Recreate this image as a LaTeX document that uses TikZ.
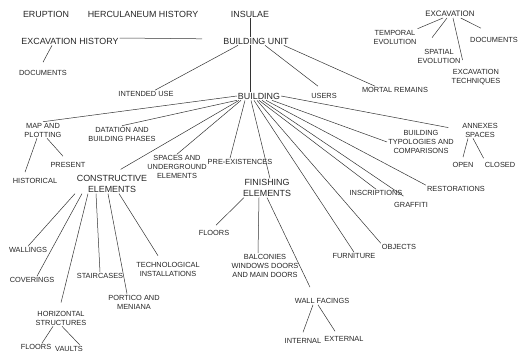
\documentclass[tikz,border=0pt]{standalone}
\usepackage{fontspec}
\setmainfont{Liberation Sans}
\tikzset{
  big/.style={font=\fontsize{8.9}{10.5}\selectfont, align=center, inner sep=1pt, text=black!85},
  small/.style={font=\fontsize{7.4}{9}\selectfont, align=center, inner sep=1pt, text=black!85},
  link/.style={draw=black!80, line width=0.5pt},
}
\begin{document}
\begin{tikzpicture}[x=1pt, y=-1pt]
  \useasboundingbox (0,0) rectangle (519,360);
  \path
    (46,14) node[big] (erup) {ERUPTION}
    (143,14) node[big] (herc) {HERCULANEUM HISTORY}
    (250,14) node[big] (ins) {INSULAE}
    (450,14) node[big, font=\fontsize{7.9}{9.5}\selectfont] (exc) {EXCAVATION}
    (70,41) node[big] (exch) {EXCAVATION HISTORY}
    (256,41) node[big] (bu) {BUILDING UNIT}
    (43,73) node[small] (doc) {DOCUMENTS}
    (395,37) node[small] (temp) {TEMPORAL\\EVOLUTION}
    (439,56) node[small] (spat) {SPATIAL\\EVOLUTION}
    (494,40) node[small] (edoc) {DOCUMENTS}
    (476,77) node[small] (etec) {EXCAVATION\\TECHNIQUES}
    (146,94) node[small] (use) {INTENDED USE}
    (259,96) node[big] (bld) {BUILDING}
    (324,96) node[small] (usr) {USERS}
    (395,90) node[small] (mort) {MORTAL REMAINS}
    (43,130) node[small] (map) {MAP AND\\PLOTTING}
    (68,165) node[small] (pres) {PRESENT}
    (35,181) node[small] (hist) {HISTORICAL}
    (122,134) node[small] (dat) {DATATION AND\\BUILDING PHASES}
    (112,184) node[big] (cons) {CONSTRUCTIVE\\ELEMENTS}
    (177,167) node[small] (spa) {SPACES AND\\UNDERGROUND\\ELEMENTS}
    (240,162) node[small] (pre) {PRE-EXISTENCES}
    (267,188) node[big] (fin) {FINISHING\\ELEMENTS}
    (421,142) node[small] (typo) {BUILDING\\TYPOLOGIES AND\\COMPARISONS}
    (480,130) node[small] (ann) {ANNEXES\\SPACES}
    (463,165) node[small] (open) {OPEN}
    (500,165) node[small] (clos) {CLOSED}
    (456,189) node[small] (rest) {RESTORATIONS}
    (376,193) node[small] (insc) {INSCRIPTIONS}
    (411,205) node[small] (graf) {GRAFFITI}
    (354,256) node[small] (furn) {FURNITURE}
    (399,247) node[small] (obj) {OBJECTS}
    (214,233) node[small] (ffl) {FLOORS}
    (265,266) node[small] (balc) {BALCONIES\\WINDOWS DOORS\\AND MAIN DOORS}
    (322,301) node[small] (wf) {WALL FACINGS}
    (303,341) node[small] (int) {INTERNAL}
    (344,339) node[small] (ext) {EXTERNAL}
    (28,250) node[small] (wall) {WALLINGS}
    (32,280) node[small] (cov) {COVERINGS}
    (61,318) node[small] (hor) {HORIZONTAL\\STRUCTURES}
    (100,276) node[small] (stair) {STAIRCASES}
    (134,302) node[small] (port) {PORTICO AND\\MENIANA}
    (168,269) node[small] (tec) {TECHNOLOGICAL\\INSTALLATIONS}
    (36,347) node[small] (hfl) {FLOORS}
    (69,349) node[small] (vau) {VAULTS};
  \begin{scope}[link]
    \draw (ins.south) to (ins.south |- bu.north);
    \draw (bu.south -| ins.south) to (bld.north -| ins.south);
    \draw[shorten >=20pt] ([yshift=3pt]exch.east) to ([yshift=2pt]bu.west);
    \draw ([xshift=-18pt]exch.south) to ([yshift=7pt]doc.north);
    \draw ([xshift=-18pt]bu.south) to ([xshift=9pt]use.north);
    \draw ([xshift=9pt]bu.south) to ([xshift=-6pt,yshift=6pt]usr.north);
    \draw ([xshift=-6pt]bu.south east) to ([xshift=-20pt]mort.north);
    \draw ([xshift=-7pt]exc.south) to (temp.north east);
    \draw ([xshift=-3pt]exc.south) to ([xshift=-7pt,yshift=10pt]spat.north);
    \draw ([xshift=-15pt]exc.south east) to ([xshift=12pt,yshift=8pt]edoc.north west);
    \draw ([xshift=3pt]exc.south) to ([xshift=12pt,yshift=8pt]etec.north west);
    \draw (bld.west) to (map.north);
    \draw (bld.south west) to (dat.north);
    \draw[shorten >=10pt] ([xshift=-20pt]bld.south) to (cons.north);
    \draw ([xshift=-18pt]bld.south) to (spa.north);
    \draw ([xshift=-14pt]bld.south) to ([xshift=-10pt]pre.north);
    \draw ([xshift=-8pt]bld.south) to ([xshift=3pt]fin.north);
    \draw ([xshift=-5pt]bld.south) to (furn.north);
    \draw ([xshift=-2pt]bld.south) to (obj.north west);
    \draw (bld.south) to (insc.north);
    \draw[shorten >=9pt] ([xshift=3pt]bld.south) to (graf.north);
    \draw ([xshift=7pt]bld.south) to (rest.north west);
    \draw ([xshift=13pt]bld.south) to (typo.west);
    \draw[shorten >=13pt] (bld.east) to (ann.west);
    \draw ([xshift=4pt]map.south) to ([xshift=-5pt,yshift=5pt]pres.north);
    \draw ([xshift=-6pt]map.south) to ([xshift=-10pt,yshift=5pt]hist.north);
    \draw ([xshift=-12pt]ann.south) to ([yshift=4pt]open.north);
    \draw ([xshift=-7pt]ann.south) to ([yshift=3pt]clos.north west);
    \draw ([xshift=-37pt]cons.south) to (wall.north);
    \draw ([xshift=-30pt]cons.south) to ([xshift=5pt]cov.north);
    \draw ([xshift=-24pt]cons.south) to ([yshift=7pt]hor.north);
    \draw ([xshift=-16pt]cons.south) to (stair.north);
    \draw ([xshift=-4pt]cons.south) to ([xshift=-7pt]port.north);
    \draw ([xshift=7pt]cons.south) to ([xshift=-10pt,yshift=5pt]tec.north);
    \draw ([xshift=-8pt]hor.south) to ([xshift=6pt]hfl.north);
    \draw ([xshift=1pt]hor.south) to ([xshift=-4pt]vau.north east);
    \draw ([xshift=-23pt]fin.south) to ([xshift=2pt,yshift=4pt]ffl.north);
    \draw ([xshift=-8pt]fin.south) to ([xshift=-7pt]balc.north);
    \draw (fin.south) to ([xshift=-12pt,yshift=10pt]wf.north);
    \draw ([xshift=-9pt]wf.south) to ([yshift=5pt]int.north);
    \draw ([xshift=-4pt]wf.south) to ([xshift=-9pt,yshift=4pt]ext.north);
  \end{scope}
\end{tikzpicture}
\end{document}
